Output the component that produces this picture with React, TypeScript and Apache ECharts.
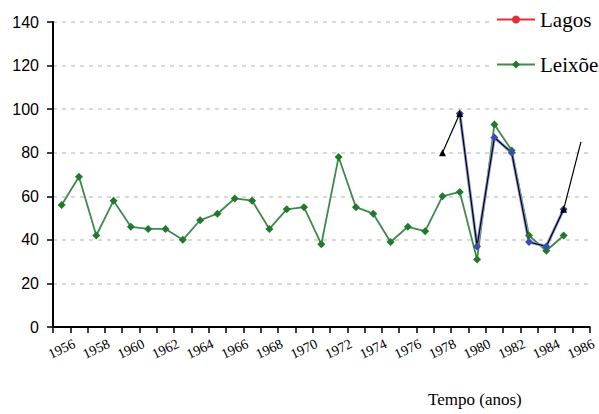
import React, { useEffect, useRef } from "react";
import * as echarts from "echarts";

const years: string[] = [];
for (let y = 1956; y <= 1986; y++) years.push(String(y));

// Leixões 1956..1985
const leixoes = [56, 69, 42, 58, 46, 45, 45, 40, 49, 52, 59, 58, 45, 54, 55, 38, 78, 55, 52, 39, 46, 44, 60, 62, 31, 93, 81, 42, 35, 42];
// blue series 1979..1985
const blueYears = ["1979", "1980", "1981", "1982", "1983", "1984", "1985"];
const blueValues = [98, 37, 87, 80, 39, 37, 54];
// black series 1978..1986
const blackYears = ["1978", "1979", "1980", "1981", "1982", "1983", "1984", "1985", "1986"];
const blackValues = [80, 98, 37, 87, 80, 39, 37, 54, 85];
const blackMarked = [true, true, false, false, false, false, false, true, false];

const yTicks = { min: 0, max: 140, interval: 20 };
const SERIF = "'Liberation Serif', 'DejaVu Serif', serif";

export default function App() {
  const ref = useRef<HTMLDivElement>(null);
  useEffect(() => {
    document.body.style.margin = "0";
    const chart = echarts.init(ref.current!, null, { renderer: "svg" });
    const blueData = years.map((y) => {
      const i = blueYears.indexOf(y);
      return i >= 0 ? blueValues[i] : null;
    });
    const blackData = years.map((y) => {
      const i = blackYears.indexOf(y);
      if (i < 0) return null;
      return { value: blackValues[i], symbol: blackMarked[i] ? "triangle" : "none" };
    });
    chart.setOption({
      animation: false,
      backgroundColor: "#ffffff",
      grid: { left: 53, right: -10, top: 22, bottom: 87 },
      legend: {
        orient: "vertical",
        left: 492,
        top: 3,
        itemWidth: 38,
        itemHeight: 10,
        itemGap: 24,
        backgroundColor: "#ffffff",
        padding: [6, 40, 4, 4],
        data: ["Lagos", "Leixões"],
        textStyle: { fontFamily: SERIF, fontSize: 21, color: "#000" },
      },
      xAxis: {
        type: "category",
        data: years,
        boundaryGap: true,
        axisLine: { lineStyle: { color: "#000", width: 2 } },
        axisTick: { show: true, interval: 0, length: 6, lineStyle: { color: "#000", width: 1.5 } },
        axisLabel: {
          interval: 1,
          rotate: 25,
          align: "center",
          verticalAlign: "middle",
          margin: 22,
          fontFamily: SERIF,
          fontSize: 14,
          color: "#000",
        },
        splitLine: { show: false },
      },
      yAxis: {
        type: "value",
        min: yTicks.min,
        max: yTicks.max,
        interval: yTicks.interval,
        axisLine: { show: true, lineStyle: { color: "#000", width: 2 } },
        axisTick: { show: true, length: 6, lineStyle: { color: "#000", width: 1.5 } },
        axisLabel: { fontFamily: "'Liberation Sans', sans-serif", fontSize: 16, color: "#000", margin: 14 },
        splitLine: { show: true, lineStyle: { color: "#cccccc", type: [4, 5], width: 1.5 } },
      },
      graphic: [
        {
          type: "text",
          left: 428,
          top: 391,
          style: { text: "Tempo (anos)", fontFamily: SERIF, fontSize: 17, fill: "#000" },
        },
      ],
      series: [
        {
          name: "Lagos",
          type: "line",
          data: [],
          color: "#e0303a",
          symbol: "circle",
          symbolSize: 5,
          lineStyle: { width: 1.5 },
        },
        {
          name: "Leixões",
          type: "line",
          data: leixoes,
          color: "#2a8a3a",
          symbol: "diamond",
          symbolSize: 8,
          lineStyle: { width: 1.8, color: "#3f8a4a" },
          itemStyle: { color: "#1f7a2e" },
        },
        {
          name: "Série B",
          type: "line",
          data: blueData,
          color: "#4a5cc0",
          symbol: "diamond",
          symbolSize: 8,
          lineStyle: { width: 3, color: "#8a96e0" },
          itemStyle: { color: "#3a4cb0" },
        },
        {
          name: "Série C",
          type: "line",
          data: blackData,
          color: "#000",
          symbolSize: 7,
          lineStyle: { width: 1.2, color: "#000" },
          itemStyle: { color: "#000" },
        },
      ],
    });
    return () => chart.dispose();
  }, []);
  return <div ref={ref} style={{ width: 599, height: 414 }} />;
}
